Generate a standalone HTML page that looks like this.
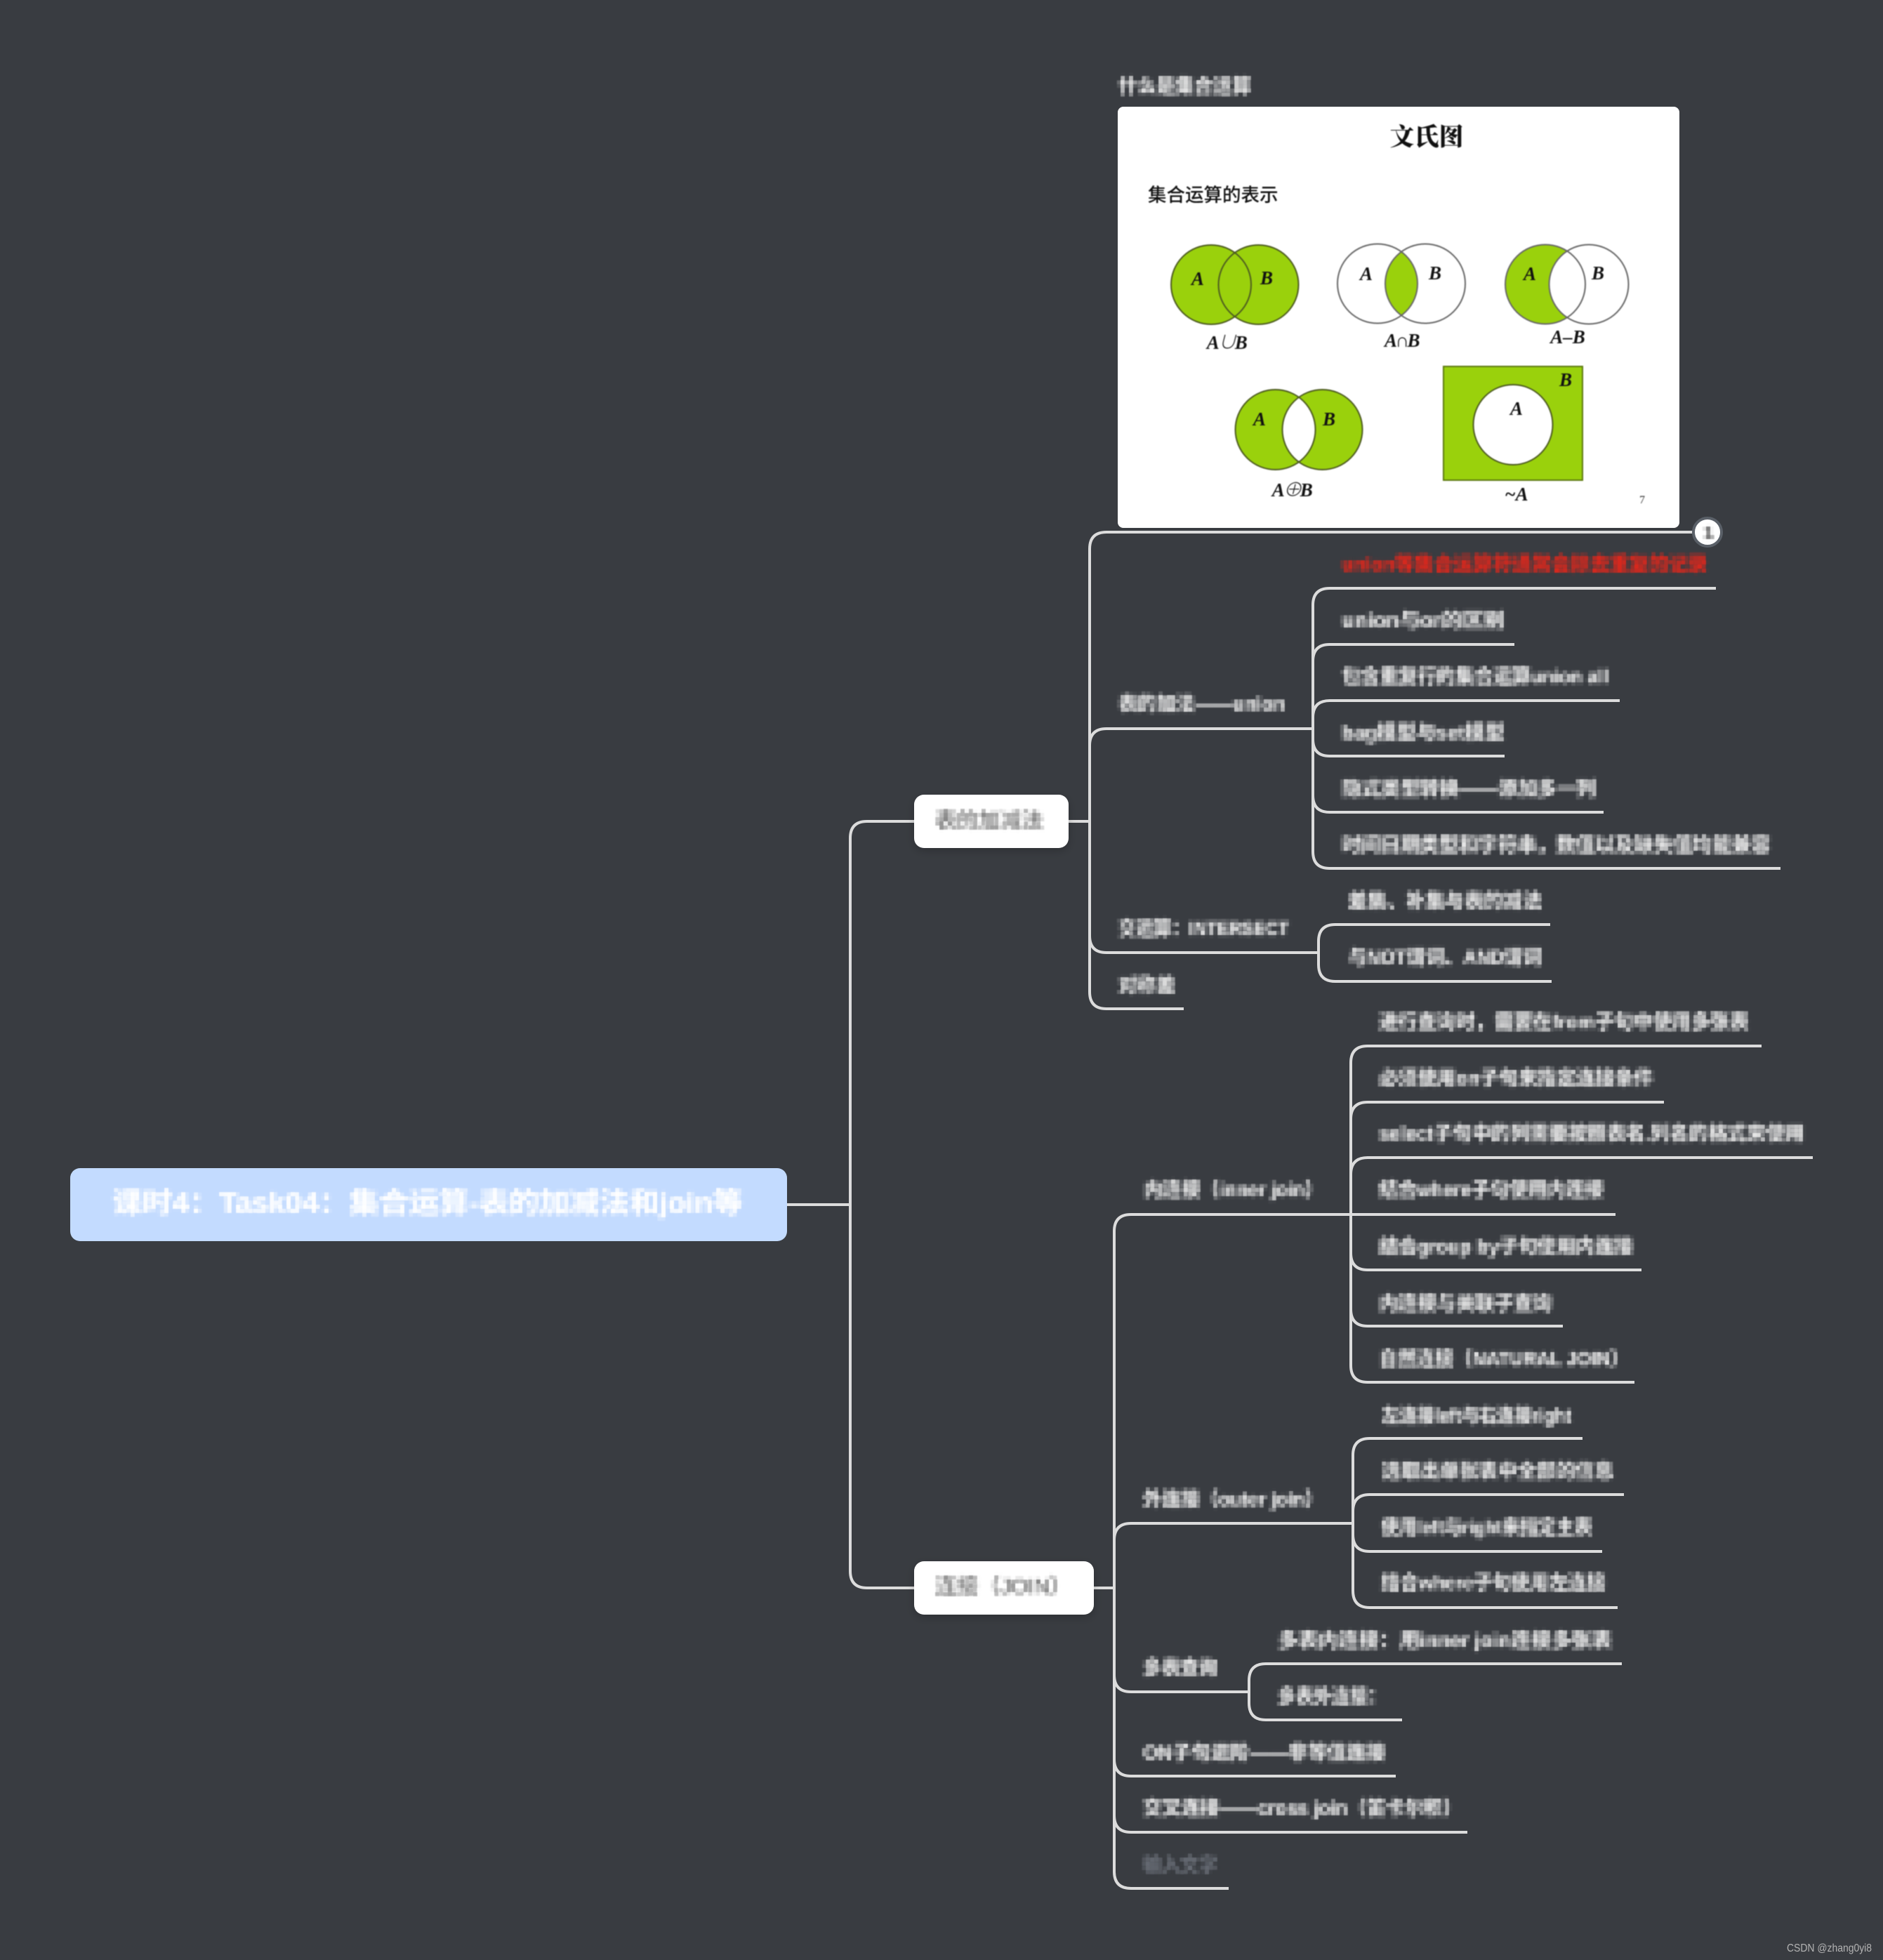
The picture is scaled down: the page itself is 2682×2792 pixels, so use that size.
<!DOCTYPE html>
<html lang="zh"><head><meta charset="utf-8"><title>课时4 Task04 集合运算</title>
<style>html,body{margin:0;padding:0;background:#393c41}svg{display:block}
.t{font-family:"Liberation Sans","Noto Sans CJK SC",sans-serif;font-size:28px;fill:#ececec;font-weight:700}
.v{font-family:"Liberation Serif","Noto Serif CJK SC",serif;font-style:italic;font-weight:bold;fill:#111;text-anchor:middle}
.w{letter-spacing:-2.5px}
</style></head><body>
<svg width="2682" height="2792" viewBox="0 0 2682 2792" xmlns="http://www.w3.org/2000/svg">
<defs>
<filter id="m" x="0" y="0" width="2682" height="2792" filterUnits="userSpaceOnUse" color-interpolation-filters="sRGB">
<feGaussianBlur in="SourceGraphic" stdDeviation="1.6" result="b"/>
<feFlood x="2" y="2" width="2" height="2" flood-color="#000"/>
<feComposite width="6" height="6"/>
<feTile result="a"/>
<feComposite in="b" in2="a" operator="in"/>
<feMorphology operator="dilate" radius="2"/>
<feGaussianBlur stdDeviation="0.4"/>
</filter>
<filter id="s" x="-20%" y="-30%" width="140%" height="170%"><feDropShadow dx="0" dy="4" stdDeviation="6" flood-color="#000" flood-opacity="0.2"/></filter>
<filter id="c" x="-5%" y="-5%" width="110%" height="110%" color-interpolation-filters="sRGB"><feGaussianBlur stdDeviation="0.7"/></filter>
</defs>
<rect width="2682" height="2792" fill="#393c41"/>
<g fill="none" stroke="#dcdcdc" stroke-width="4">
<path d="M1121,1716H1211M1211,1716V1194Q1211,1170 1235,1170H1302M1211,1716V2238Q1211,2262 1235,2262H1302"/>
<path d="M1522,1170H1552M1552,1170V782Q1552,758 1576,758H2412M1552,1170V1062Q1552,1038 1576,1038H1870M1552,1170V1333Q1552,1357 1576,1357H1878M1552,1170V1413Q1552,1437 1576,1437H1686"/>
<path d="M1870,1038V862Q1870,838 1894,838H2444M1870,1038V942Q1870,918 1894,918H2157M1870,1038V1022Q1870,998 1894,998H2307M1870,1038V1053Q1870,1077 1894,1077H2143M1870,1038V1133Q1870,1157 1894,1157H2284M1870,1038V1213Q1870,1237 1894,1237H2536"/>
<path d="M1878,1357V1341Q1878,1317 1902,1317H2208M1878,1357V1374Q1878,1398 1902,1398H2210"/>
<path d="M1558,2262H1587M1587,2262V1754Q1587,1730 1611,1730H2301M1587,2262V2194Q1587,2170 1611,2170H1927M1587,2262V2386Q1587,2410 1611,2410H1779M1587,2262V2506Q1587,2530 1611,2530H1988M1587,2262V2586Q1587,2610 1611,2610H2090M1587,2262V2666Q1587,2690 1611,2690H1750"/>
<path d="M1924,1730V1514Q1924,1490 1948,1490H2509M1924,1730V1594Q1924,1570 1948,1570H2370M1924,1730V1673Q1924,1649 1948,1649H2582M1924,1730V1785Q1924,1809 1948,1809H2338M1924,1730V1865Q1924,1889 1948,1889H2226M1924,1730V1945Q1924,1969 1948,1969H2328"/>
<path d="M1927,2170V2073Q1927,2049 1951,2049H2254M1927,2170V2153Q1927,2129 1951,2129H2313M1927,2170V2186Q1927,2210 1951,2210H2282M1927,2170V2266Q1927,2290 1951,2290H2304"/>
<path d="M1779,2410V2394Q1779,2370 1803,2370H2310M1779,2410V2426Q1779,2450 1803,2450H1997"/>
</g>
<rect x="100" y="1664" width="1021" height="104" rx="14" fill="#c3dbff"/>
<rect x="1302" y="1132" width="220" height="76" rx="14" fill="#fff" filter="url(#s)"/>
<rect x="1302" y="2224" width="256" height="76" rx="14" fill="#fff" filter="url(#s)"/>
<rect x="1592" y="152" width="800" height="600" rx="8" fill="#fff"/>
<circle cx="2432" cy="758" r="20" fill="#fff" stroke="#5a6068" stroke-width="4"/>
<g filter="url(#c)">
<ellipse cx="1725" cy="405.5" rx="57" ry="56.5" fill="#9ad10c"/><ellipse cx="1792.5" cy="405.5" rx="57" ry="56.5" fill="#9ad10c"/>
<g fill="none" stroke="#4c5a20" stroke-width="2"><ellipse cx="1725" cy="405.5" rx="57" ry="56.5"/><ellipse cx="1792.5" cy="405.5" rx="57" ry="56.5"/></g>
<clipPath id="ca"><ellipse cx="1962" cy="404" rx="57" ry="56.5"/></clipPath>
<ellipse cx="2030" cy="404" rx="57" ry="56.5" fill="#9ad10c" clip-path="url(#ca)"/>
<g fill="none" stroke="#666" stroke-width="2"><ellipse cx="1962" cy="404" rx="57" ry="56.5"/><ellipse cx="2030" cy="404" rx="57" ry="56.5"/></g>
<ellipse cx="2201" cy="405" rx="57" ry="56.5" fill="#9ad10c"/><ellipse cx="2263" cy="405" rx="56.5" ry="56.5" fill="#fff"/>
<g fill="none" stroke="#666" stroke-width="2"><ellipse cx="2201" cy="405" rx="57" ry="56.5"/><ellipse cx="2263" cy="405" rx="56.5" ry="56.5"/></g>
<ellipse cx="1816.5" cy="612" rx="57" ry="57" fill="#9ad10c"/><ellipse cx="1883.5" cy="612" rx="57" ry="57" fill="#9ad10c"/>
<clipPath id="cb"><ellipse cx="1816.5" cy="612" rx="57" ry="57"/></clipPath>
<ellipse cx="1883.5" cy="612" rx="57" ry="57" fill="#fff" clip-path="url(#cb)"/>
<g fill="none" stroke="#4c5a20" stroke-width="2"><ellipse cx="1816.5" cy="612" rx="57" ry="57"/><ellipse cx="1883.5" cy="612" rx="57" ry="57"/></g>
<rect x="2056" y="522" width="198" height="162" fill="#9ad10c" stroke="#5d7a10" stroke-width="2"/>
<ellipse cx="2155" cy="605" rx="56.5" ry="57" fill="#fff" stroke="#4c5a20" stroke-width="2"/>
<text x="2032" y="207" font-family="'Noto Serif CJK SC',serif" font-size="35" font-weight="900" text-anchor="middle" fill="#111">文氏图</text>
<text x="1635" y="287" font-family="'Noto Sans CJK SC',sans-serif" font-size="26.5" font-weight="500" fill="#111">集合运算的表示</text>
<g font-size="27">
<text class="v" x="1706" y="406">A</text><text class="v" x="1804" y="405">B</text>
<text class="v" x="1946" y="399">A</text><text class="v" x="2044" y="398">B</text>
<text class="v" x="2179" y="399">A</text><text class="v" x="2276" y="398">B</text>
<text class="v" x="1794" y="606">A</text><text class="v" x="1893" y="606">B</text>
<text class="v" x="2230" y="550">B</text><text class="v" x="2160" y="591">A</text>
<text class="v w" x="1746.5" y="497">A∪B</text><text class="v w" x="1996" y="494">A∩B</text>
<text class="v" x="2233" y="489">A–B</text><text class="v w" x="1839.5" y="707">A⊕B</text>
<text class="v" x="2160" y="713">~A</text>
</g>
<text x="2339" y="717" font-family="'Liberation Serif',serif" font-size="16" text-anchor="middle" fill="#333">7</text>
</g>
<g filter="url(#m)">
<text class="t" x="1593" y="132" textLength="189" lengthAdjust="spacingAndGlyphs">什么是集合运算</text>
<text x="160" y="1727" textLength="898" lengthAdjust="spacingAndGlyphs" font-family="'Liberation Sans','Noto Sans CJK SC',sans-serif" font-size="40" font-weight="700" fill="#fff">课时4：Task04：集合运算-表的加减法和join等</text>
<text x="1332" y="1179" textLength="154" lengthAdjust="spacingAndGlyphs" font-family="'Liberation Sans','Noto Sans CJK SC',sans-serif" font-size="30" fill="#666">表的加减法</text>
<text x="1332" y="2270" textLength="194" lengthAdjust="spacingAndGlyphs" font-family="'Liberation Sans','Noto Sans CJK SC',sans-serif" font-size="30" fill="#666">连接（JOIN）</text>
<text x="2427" y="767" font-family="'Liberation Sans',sans-serif" font-size="24" font-weight="700" fill="#555">1</text>
<text class="t" x="1593" y="1012" textLength="237" lengthAdjust="spacingAndGlyphs">表的加法——union</text>
<text class="t" x="1911" y="813" textLength="521" lengthAdjust="spacingAndGlyphs" style="fill:#e8261a">union等集合运算符通常会除去重复的记录</text>
<text class="t" x="1911" y="893" textLength="232" lengthAdjust="spacingAndGlyphs">union与or的区别</text>
<text class="t" x="1911" y="973" textLength="380" lengthAdjust="spacingAndGlyphs">包含重复行的集合运算union all</text>
<text class="t" x="1911" y="1053" textLength="232" lengthAdjust="spacingAndGlyphs">bag模型与set模型</text>
<text class="t" x="1911" y="1133" textLength="362" lengthAdjust="spacingAndGlyphs">隐式类型转换——添加多一列</text>
<text class="t" x="1911" y="1213" textLength="611" lengthAdjust="spacingAndGlyphs">时间日期类型和字符串，数值以及缺失值均能兼容</text>
<text class="t" x="1593" y="1332" textLength="243" lengthAdjust="spacingAndGlyphs">交运算：INTERSECT</text>
<text class="t" x="1920" y="1293" textLength="276" lengthAdjust="spacingAndGlyphs">差集、补集与表的减法</text>
<text class="t" x="1920" y="1373" textLength="276" lengthAdjust="spacingAndGlyphs">与NOT谓词、AND谓词</text>
<text class="t" x="1593" y="1413" textLength="81" lengthAdjust="spacingAndGlyphs">对称差</text>
<text class="t" x="1629" y="1704" textLength="256" lengthAdjust="spacingAndGlyphs">内连接（inner join）</text>
<text class="t" x="1964" y="1465" textLength="527" lengthAdjust="spacingAndGlyphs">进行查询时，需要在from子句中使用多张表</text>
<text class="t" x="1964" y="1545" textLength="391" lengthAdjust="spacingAndGlyphs">必须使用on子句来指定连接条件</text>
<text class="t" x="1964" y="1624" textLength="606" lengthAdjust="spacingAndGlyphs">select子句中的列需要按照表名.列名的格式来使用</text>
<text class="t" x="1964" y="1704" textLength="320" lengthAdjust="spacingAndGlyphs">结合where子句使用内连接</text>
<text class="t" x="1964" y="1785" textLength="362" lengthAdjust="spacingAndGlyphs">结合group by子句使用内连接</text>
<text class="t" x="1964" y="1866" textLength="247" lengthAdjust="spacingAndGlyphs">内连接与关联子查询</text>
<text class="t" x="1964" y="1945" textLength="356" lengthAdjust="spacingAndGlyphs">自然连接（NATURAL JOIN）</text>
<text class="t" x="1628" y="2145" textLength="257" lengthAdjust="spacingAndGlyphs">外连接（outer join）</text>
<text class="t" x="1968" y="2026" textLength="270" lengthAdjust="spacingAndGlyphs">左连接left与右连接right</text>
<text class="t" x="1968" y="2105" textLength="331" lengthAdjust="spacingAndGlyphs">选取出单张表中全部的信息</text>
<text class="t" x="1967" y="2185" textLength="301" lengthAdjust="spacingAndGlyphs">使用left与right来指定主表</text>
<text class="t" x="1967" y="2264" textLength="320" lengthAdjust="spacingAndGlyphs">结合where子句使用左连接</text>
<text class="t" x="1628" y="2385" textLength="106" lengthAdjust="spacingAndGlyphs">多表查询</text>
<text class="t" x="1820" y="2346" textLength="476" lengthAdjust="spacingAndGlyphs">多表内连接：用inner join连接多张表</text>
<text class="t" x="1820" y="2426" textLength="154" lengthAdjust="spacingAndGlyphs">多表外连接：</text>
<text class="t" x="1628" y="2506" textLength="345" lengthAdjust="spacingAndGlyphs">ON子句进阶——非等值连接</text>
<text class="t" x="1628" y="2585" textLength="454" lengthAdjust="spacingAndGlyphs">交叉连接——cross join（笛卡尔积）</text>
<text class="t" x="1628" y="2666" textLength="106" lengthAdjust="spacingAndGlyphs" style="fill:#6a6f78">输入文字</text>
</g>
<text x="2545" y="2780" textLength="121" lengthAdjust="spacingAndGlyphs" font-family="'Liberation Sans',sans-serif" font-size="16" fill="#b4b4b4">CSDN @zhang0yi8</text>
</svg>
</body></html>
